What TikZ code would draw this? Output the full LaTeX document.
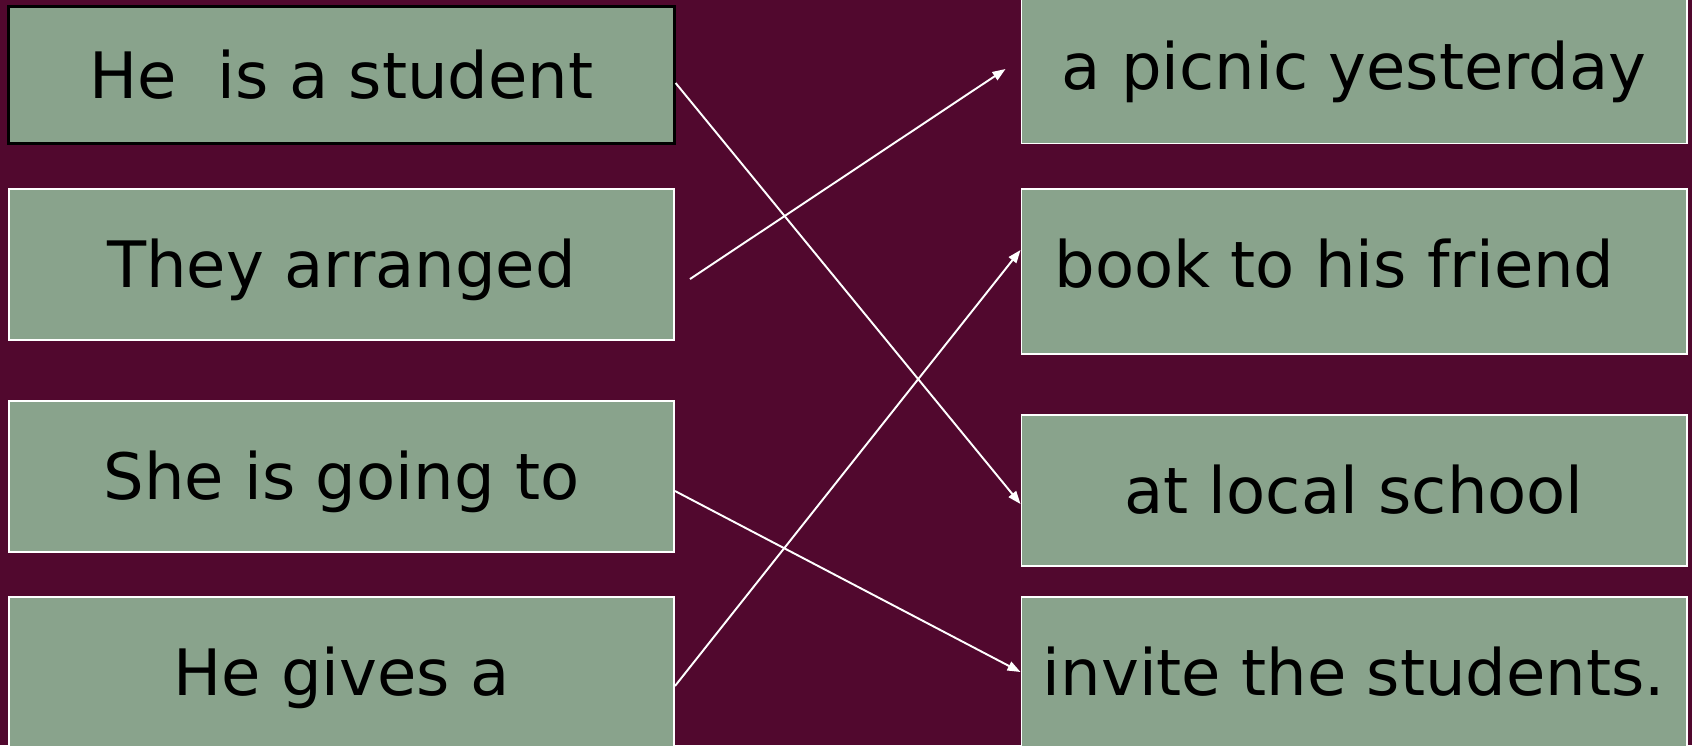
\documentclass[tikz,border=0pt]{standalone}
\usepackage{fontspec}
\setmainfont{DejaVu Sans}
\usepackage{xcolor}
\usetikzlibrary{arrows.meta, positioning, calc}
\definecolor{slidebg}{RGB}{81,8,46}
\definecolor{cardgreen}{RGB}{137,163,140}

\begin{document}
\begin{tikzpicture}[x=0.01cm, y=-0.01cm,
    card/.style={draw=white, line width=0.45pt, fill=cardgreen, inner sep=0pt,
                 minimum width=6.65cm, text=black, text height=13.3pt, text depth=0pt,
                 font=\fontsize{18.2}{22}\selectfont},
    link/.style={draw=white, line width=0.55pt,
                 -{Triangle[length=1.3mm, width=0.95mm]}}
  ]
    \clip (0,0) rectangle (1692,745);
    \fill[slidebg] (0,0) rectangle (1692,745);

    % left column
    \node[card, draw=black, line width=0.8pt, minimum height=1.37cm] (student) at (341.5,75) {He\ \ is a student};
    \node[card, minimum height=1.51cm] (arranged) at (341.5,264.5) {They arranged};
    \node[card, minimum height=1.51cm] (going) at (341.5,476.5) {She is going to};
    \node[card, minimum height=1.50cm] (gives) at (341.5,672) {He gives a};

    % right column
    \node[card, minimum height=1.54cm] (picnic) at (1354,66.5) {a picnic yesterday};
    \node[card, minimum height=1.65cm, text depth=4pt] (book) at (1354,271.5) {book to his friend\kern0.39cm};
    \node[card, minimum height=1.51cm] (school) at (1354,490.5) {at local school};
    \node[card, minimum height=1.50cm] (invite) at (1354,672) {invite the students.};

    \draw[link] ($(student.east)+(0,8)$) -- ($(school.west)+(0,13.5)$);
    \draw[link] ($(arranged.east)+(15,14.5)$) -- ($(picnic.west)+(-15,2.5)$);
    \draw[link] ($(going.east)+(0,14.5)$) -- (invite.west);
    \draw[link] ($(gives.east)+(0,14)$) -- ($(book.west)+(0,-21.5)$);
  \end{tikzpicture}
\end{document}
